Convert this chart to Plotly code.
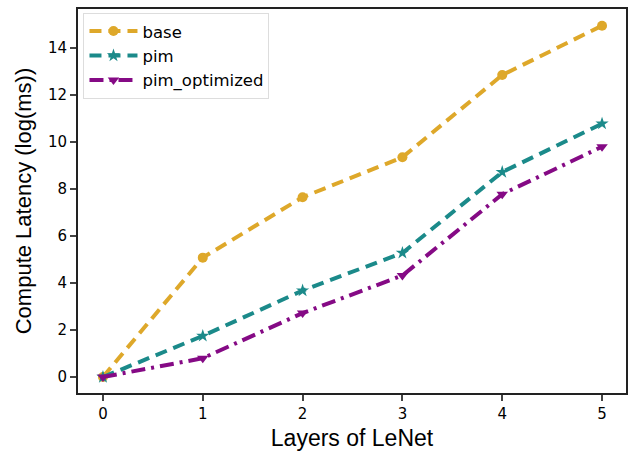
import plotly.graph_objects as go

layers = [0, 1, 2, 3, 4, 5]
base = [0.0, 5.08, 7.65, 9.35, 12.85, 14.95]
pim = [0.0, 1.75, 3.68, 5.28, 8.72, 10.78]
pim_optimized = [0.0, 0.8, 2.72, 4.32, 7.78, 9.8]

fig = go.Figure()
fig.add_trace(go.Scatter(x=layers, y=base, name="base", mode="lines+markers",
                         line=dict(color="#DEA82A", width=4, dash="12px,7px"),
                         marker=dict(symbol="circle", size=10, color="#DEA82A")))
fig.add_trace(go.Scatter(x=layers, y=pim, name="pim", mode="lines+markers",
                         line=dict(color="#1B8A8A", width=4, dash="12px,7px"),
                         marker=dict(symbol="star", size=10, color="#1B8A8A")))
fig.add_trace(go.Scatter(x=layers, y=pim_optimized, name="pim_optimized", mode="lines+markers",
                         line=dict(color="#850A85", width=4, dash="14px,6px,3px,6px"),
                         marker=dict(symbol="triangle-down", size=10, color="#850A85")))

fig.update_layout(
    width=631, height=453,
    margin=dict(l=78, r=3, t=9, b=60),
    paper_bgcolor="white", plot_bgcolor="white",
    font=dict(family="Liberation Sans, Arial", color="black"),
    showlegend=True,
    legend=dict(x=0.01, y=0.99, xanchor="left", yanchor="top",
                bgcolor="rgba(255,255,255,0.9)", bordercolor="#dddddd", borderwidth=1,
                font=dict(size=16.5, family="DejaVu Sans"), tracegroupgap=0, itemwidth=48),
    xaxis=dict(range=[-0.25, 5.24], tickvals=layers, ticks="outside", ticklen=6, tickwidth=1.5,
               showline=True, linecolor="#222", linewidth=2, mirror=True, showgrid=False, zeroline=False,
               tickfont=dict(size=15, family="DejaVu Sans"),
               title=dict(text="Layers of LeNet", font=dict(size=23), standoff=8)),
    yaxis=dict(range=[-0.68, 15.66], tickvals=[0, 2, 4, 6, 8, 10, 12, 14], ticks="outside", ticklen=6, tickwidth=1.5,
               showline=True, linecolor="#222", linewidth=2, mirror=True, showgrid=False, zeroline=False,
               tickfont=dict(size=15, family="DejaVu Sans"),
               title=dict(text="Compute Latency (log(ms))", font=dict(size=22), standoff=10)),
)
fig.write_html("out.html")
